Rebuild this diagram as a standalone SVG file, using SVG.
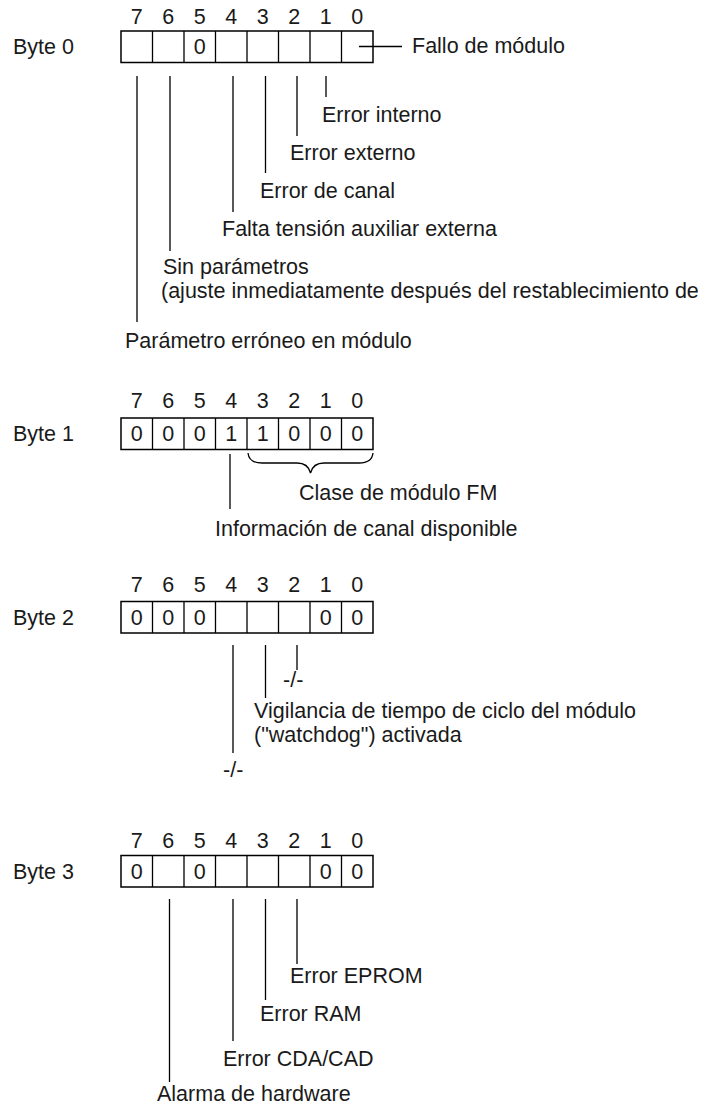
<svg xmlns="http://www.w3.org/2000/svg" width="704" height="1107" viewBox="0 0 704 1107">
<style>
text{font-family:"Liberation Sans",Arial,sans-serif;font-size:21.5px;fill:#1a1a1a}
.c{text-anchor:middle}
.box{fill:#fff;stroke:#000;stroke-width:1.5}
.ln{stroke:#000;stroke-width:1.3;fill:none}
</style>
<defs>
<g id="reg">
<rect class="box" x="121" y="0" width="252" height="31.5"/>
<path class="ln" d="M152.5,0V31.5M184,0V31.5M215.5,0V31.5M247,0V31.5M278.5,0V31.5M310,0V31.5M341.5,0V31.5"/>
</g>
<g id="bits">
<text class="c" x="136.75">7</text><text class="c" x="168.25">6</text><text class="c" x="199.75">5</text><text class="c" x="231.25">4</text><text class="c" x="262.75">3</text><text class="c" x="294.25">2</text><text class="c" x="325.75">1</text><text class="c" x="357.25">0</text>
</g>
</defs>

<g id="byte0">
<text x="13" y="54">Byte 0</text>
<use href="#bits" y="23.5"/>
<use href="#reg" y="31"/>
<text class="c" x="199.75" y="54">0</text>
</g>

<g id="byte1">
<text x="13" y="441">Byte 1</text>
<use href="#bits" y="408"/>
<use href="#reg" y="418"/>
<text class="c" x="136.75" y="441">0</text><text class="c" x="168.25" y="441">0</text><text class="c" x="199.75" y="441">0</text><text class="c" x="231.25" y="441">1</text><text class="c" x="262.75" y="441">1</text><text class="c" x="294.25" y="441">0</text><text class="c" x="325.75" y="441">0</text><text class="c" x="357.25" y="441">0</text>
</g>

<g id="byte2">
<text x="13" y="625">Byte 2</text>
<use href="#bits" y="592"/>
<use href="#reg" y="601.5"/>
<text class="c" x="136.75" y="625">0</text><text class="c" x="168.25" y="625">0</text><text class="c" x="199.75" y="625">0</text><text class="c" x="325.75" y="625">0</text><text class="c" x="357.25" y="625">0</text>
</g>

<g id="byte3">
<text x="13" y="879">Byte 3</text>
<use href="#bits" y="848"/>
<use href="#reg" y="855.5"/>
<text class="c" x="136.75" y="879">0</text><text class="c" x="199.75" y="879">0</text><text class="c" x="325.75" y="879">0</text><text class="c" x="357.25" y="879">0</text>
</g>

<g id="connectors">
<path class="ln" d="M359,46.5H402"/>
<path class="ln" d="M326,76V97M297,76V136M265.5,76V173M233,76V212M170,76V251M137,76V322"/>
<path class="ln" d="M230,454V509"/>
<path class="ln" d="M248,453Q249,463 262,463H297Q308,463 310.5,473Q313,463 324,463H359Q372,463 373,453"/>
<path class="ln" d="M297,645V670M265.5,645V698M233,645V753"/>
<path class="ln" d="M297,899V964M265.5,899V1000M233,899V1041M169.5,899V1082"/>
</g>

<g id="labels0">
<g id="l-fallo"><text x="412" y="53">Fallo de módulo</text></g>
<g id="l-interno"><text x="322" y="122">Error interno</text></g>
<g id="l-externo"><text x="290" y="160">Error externo</text></g>
<g id="l-canal"><text x="260" y="198">Error de canal</text></g>
<g id="l-falta"><text x="222" y="236">Falta tensión auxiliar externa</text></g>
<g id="l-sinpar"><text x="163" y="274">Sin parámetros</text><text x="161" y="298">(ajuste inmediatamente después del restablecimiento de</text></g>
<g id="l-param"><text x="125" y="348">Parámetro erróneo en módulo</text></g>
</g>

<g id="labels1">
<g id="l-clase"><text x="299" y="500">Clase de módulo FM</text></g>
<g id="l-info"><text x="215" y="536">Información de canal disponible</text></g>
</g>

<g id="labels2">
<g id="l-na1"><text x="283" y="687">-/-</text></g>
<g id="l-vigil"><text x="254" y="718">Vigilancia de tiempo de ciclo del módulo</text><text x="254" y="742">("watchdog") activada</text></g>
<g id="l-na2"><text x="223" y="777">-/-</text></g>
</g>

<g id="labels3">
<g id="l-eprom"><text x="290" y="983">Error EPROM</text></g>
<g id="l-ram"><text x="260" y="1021">Error RAM</text></g>
<g id="l-cda"><text x="223" y="1066">Error CDA/CAD</text></g>
<g id="l-alarma"><text x="157" y="1101">Alarma de hardware</text></g>
</g>
</svg>
